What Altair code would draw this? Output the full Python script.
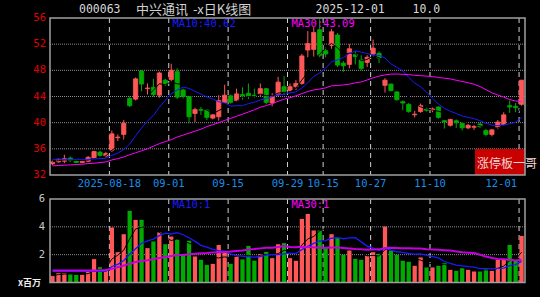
import altair as alt
import numpy as np
import pandas as pd

# ---------------- data ----------------
tick_idx = [10, 20, 30, 40, 46, 54, 64, 79]
tick_lbl = ["2025-08-18", "09-01", "09-15", "09-29", "10-15", "10-27", "11-10", "12-01"]
price_ticks = [32, 36, 40, 44, 48, 52, 56]
vol_ticks = [2, 4, 6]

opens = [33.7, 34.0, 34.1, 34.6, 34.2, 33.9, 34.1, 34.6, 35.5, 34.9,
         35.8, 37.7, 38.2, 43.7, 43.6, 47.9, 45.2, 45.4, 44.2, 46.5,
         46.6, 47.8, 45.0, 44.0, 41.4, 42.0, 41.9, 40.7, 40.9, 43.1,
         44.1, 43.4, 44.3, 44.5, 44.2, 44.4, 45.2, 43.0, 44.3, 45.5,
         44.9, 45.5, 46.0, 51.1, 51.2, 54.2, 51.0, 51.8, 53.4, 49.1,
         48.9, 50.4, 49.6, 49.2, 50.5, 50.6, 45.7, 45.9, 44.7, 43.2,
         42.8, 41.2, 41.7, 42.1, 41.9, 42.4, 40.3, 39.6, 40.3, 39.9,
         39.2, 39.3, 39.8, 38.8, 38.2, 39.3, 39.7, 42.6, 42.5, 42.8]
closes = [34.0, 34.4, 34.5, 34.2, 33.9, 34.1, 34.7, 35.6, 35.0, 35.3,
          38.3, 37.8, 39.9, 42.6, 46.7, 45.9, 45.3, 44.3, 47.6, 45.9,
          48.0, 43.9, 44.0, 40.9, 42.0, 41.9, 40.8, 41.2, 43.4, 44.2,
          43.1, 44.4, 44.1, 44.1, 44.1, 45.2, 43.1, 44.0, 46.2, 44.7,
          45.5, 46.0, 50.2, 52.1, 53.8, 50.3, 50.5, 53.9, 48.8, 48.7,
          51.3, 50.1, 48.3, 50.0, 51.4, 49.9, 46.5, 44.9, 43.5, 43.0,
          41.7, 41.3, 42.6, 41.9, 42.1, 40.8, 40.1, 40.5, 40.0, 39.2,
          39.6, 39.4, 39.4, 38.2, 38.9, 40.1, 41.2, 42.4, 42.3, 46.5]
highs = [34.2, 34.5, 35.1, 34.8, 34.3, 34.3, 34.9, 35.7, 35.7, 35.5,
         38.8, 38.2, 40.4, 44.0, 46.9, 48.0, 46.0, 46.7, 47.8, 46.7,
         49.0, 48.3, 45.2, 44.1, 42.3, 42.4, 42.1, 41.4, 44.2, 45.8,
         44.3, 45.2, 45.4, 46.0, 45.2, 46.0, 45.3, 44.5, 47.0, 47.1,
         46.0, 46.5, 50.5, 54.0, 54.6, 55.8, 51.5, 54.3, 53.7, 49.4,
         52.0, 50.9, 50.3, 50.3, 52.7, 50.9, 46.8, 46.0, 44.8, 43.4,
         43.0, 41.8, 42.9, 42.3, 42.3, 42.5, 40.4, 40.6, 40.5, 40.1,
         39.9, 39.8, 40.0, 39.1, 39.1, 40.4, 41.6, 43.4, 43.0, 46.5]
lows = [33.5, 33.9, 33.8, 34.0, 33.8, 33.8, 34.0, 34.5, 34.8, 34.7,
        35.5, 37.2, 37.4, 42.4, 43.4, 44.8, 44.3, 44.0, 43.8, 45.6,
        46.3, 43.6, 43.7, 39.9, 40.1, 41.2, 40.4, 40.5, 40.3, 43.0,
        42.9, 43.2, 43.5, 43.6, 43.8, 44.0, 42.8, 42.5, 44.0, 44.4,
        44.6, 45.0, 45.8, 50.0, 50.1, 50.0, 50.0, 51.3, 48.5, 47.8,
        48.3, 48.9, 48.0, 48.5, 50.1, 49.1, 44.6, 44.8, 43.4, 41.9,
        41.5, 40.8, 41.5, 41.7, 41.6, 40.6, 39.1, 39.4, 39.2, 38.8,
        39.0, 38.9, 39.2, 37.9, 37.9, 39.0, 39.5, 41.5, 41.6, 42.6]
volumes = [0.48, 0.67, 0.67, 0.62, 0.55, 0.55, 0.79, 1.68, 1.10, 0.91,
           3.95, 2.18, 3.47, 5.15, 4.50, 4.50, 2.47, 2.95, 3.60, 2.75,
           3.30, 3.10, 2.00, 3.00, 1.87, 1.63, 1.27, 1.34, 2.70, 2.25,
           1.34, 1.87, 1.66, 2.63, 1.57, 2.04, 2.20, 1.75, 2.75, 2.83,
           1.75, 1.56, 4.57, 4.93, 3.74, 3.74, 2.47, 3.47, 3.23, 1.99,
           2.30, 1.70, 1.63, 1.92, 2.18, 2.06, 4.02, 2.30, 1.99, 1.56,
           1.49, 1.20, 1.80, 1.08, 1.08, 1.20, 1.39, 0.91, 0.84, 1.03,
           0.91, 0.79, 0.79, 1.03, 0.84, 1.63, 1.63, 2.70, 1.56, 3.35]

# moving-average values at the start of the window (they depend on earlier days)
ma10_head = [34.4, 34.4, 34.4, 34.4, 34.4, 34.4, 34.4, 34.45, 34.5]
ma30_head = [33.4, 33.45, 33.5, 33.55, 33.6, 33.65, 33.75, 33.8, 33.9, 34.0,
             34.3, 34.5, 34.75, 35.1, 35.4, 35.7, 36.0, 36.4, 36.8, 37.1,
             37.4, 37.8, 38.1, 38.4, 38.7, 39.0, 39.4, 39.7, 40.0]
vma10_head = [0.80, 0.80, 0.80, 0.80, 0.80, 0.80, 0.80, 0.80, 0.82]
vma30_head = [0.86, 0.86, 0.86, 0.86, 0.86, 0.86, 0.86, 0.87, 0.88, 0.90,
              0.98, 1.10, 1.22, 1.35, 1.47, 1.55, 1.60, 1.68, 1.76, 1.84,
              1.90, 1.95, 1.98, 2.03, 2.06, 2.10, 2.12, 2.15, 2.18]

# ---------------- table ----------------
cs = pd.Series(closes)
vs = pd.Series(volumes)
ma5 = cs.rolling(5, min_periods=1).mean().to_numpy()
ma10 = cs.rolling(10).mean().to_numpy()
ma10[:len(ma10_head)] = ma10_head
ma30 = cs.rolling(30).mean().to_numpy()
ma30[:len(ma30_head)] = ma30_head
vma5 = vs.rolling(5, min_periods=1).mean().to_numpy()
vma10 = vs.rolling(10).mean().to_numpy()
vma10[:len(vma10_head)] = vma10_head
vma30 = vs.rolling(30).mean().to_numpy()
vma30[:len(vma30_head)] = vma30_head

df = pd.DataFrame(dict(idx=np.arange(len(closes)), o=opens, h=highs, l=lows, c=closes, v=volumes,
                       ma5=ma5, ma10=ma10, ma30=ma30, vma5=vma5, vma10=vma10, vma30=vma30))
df["dir"] = np.where(df.c >= df.o, "up", "down")
ticks_df = pd.DataFrame({"idx": tick_idx, "lbl": tick_lbl})
pt_df = pd.DataFrame({"val": price_ticks})
vt_df = pd.DataFrame({"val": vol_ticks})
ann = pd.DataFrame({"k": [0]})

RED = "#ff5757"
GREEN = "#00aa00"
BLUE = "#1a1aff"
MAGENTA = "#ff00ff"
VOL_MAGENTA = "#c400dc"
DATE_BLUE = "#1a8ee8"
MONO = "DejaVu Sans Mono"
CJK = "Noto Sans CJK SC"

# layout (pixels inside the plot area)
W = 475
MAIN_H = 157
VOL_TOP = 181
VOL_BOT = 264.5

xs = alt.Scale(domain=[0, 80], nice=False, zero=False)
ys_main = alt.Scale(domain=[32, 56], nice=False, zero=False, range=[MAIN_H, 0])
ys_vol = alt.Scale(domain=[0, 6], nice=False, zero=False, range=[VOL_BOT, VOL_TOP])
cscale = alt.Scale(domain=["up", "down"], range=[RED, GREEN])

X = lambda f: alt.X(f, scale=xs, axis=None)
YM = lambda f: alt.Y(f, scale=ys_main, axis=None)
YV = lambda f: alt.Y(f, scale=ys_vol, axis=None)

base = alt.Chart(df).transform_calculate(
    x0="datum.idx + 0.06", x1="datum.idx + 0.78", xc="datum.idx + 0.42",
    top="max(datum.o, datum.c)", bot="min(datum.o, datum.c)", zero="0")


def label(txt, x, y, color, font=MONO, size=10.5, weight="normal", align="left"):
    return alt.Chart(ann).mark_text(align=align, baseline="middle", font=font, fontSize=size,
                                    fontWeight=weight).encode(
        x=alt.value(x), y=alt.value(y), text=alt.value(txt), color=alt.value(color))


def border(y0, y1):
    return alt.Chart(ann).mark_rect(fillOpacity=0, stroke="#a0a0a0", strokeWidth=1.5).encode(
        x=alt.value(0), x2=alt.value(W), y=alt.value(y0), y2=alt.value(y1))


# ---------------- price panel ----------------
hgrid_main = alt.Chart(pt_df).transform_filter("datum.val > 32 && datum.val < 56").mark_rule(
    color="#8c8c8c", strokeDash=[1, 1], strokeWidth=1).encode(
    y=YM("val:Q"), x=alt.value(0), x2=alt.value(W))
vgrid_main = alt.Chart(ticks_df).mark_rule(color="#d0d0d0", strokeDash=[5, 4], strokeWidth=1).encode(
    x=X("idx:Q"), y=alt.value(0), y2=alt.value(MAIN_H))
ylab_main = alt.Chart(pt_df).mark_text(align="right", baseline="middle", font=MONO, fontSize=10.5,
                                       color="#e00000").encode(
    y=YM("val:Q"), x=alt.value(-4), text=alt.Text("val:Q", format="d"))
date_mid = alt.Chart(ticks_df).transform_filter("datum.idx < 79").mark_text(
    align="center", baseline="middle", font=MONO, fontSize=10.5, color=DATE_BLUE).encode(
    x=X("idx:Q"), y=alt.value(166), text="lbl:N")
date_end = alt.Chart(ticks_df).transform_filter("datum.idx >= 79").mark_text(
    align="right", baseline="middle", font=MONO, fontSize=10.5, color=DATE_BLUE, dx=-2).encode(
    x=X("idx:Q"), y=alt.value(166), text="lbl:N")

wick = base.mark_rule(strokeWidth=1).encode(
    x=X("xc:Q"), y=YM("l:Q"), y2="h:Q",
    color=alt.Color("dir:N", scale=cscale, legend=None))
body = base.mark_rect(strokeWidth=0.8).encode(
    x=X("x0:Q"), x2="x1:Q", y=YM("top:Q"), y2="bot:Q",
    color=alt.Color("dir:N", scale=cscale, legend=None),
    stroke=alt.Stroke("dir:N", scale=cscale, legend=None))
pm5 = base.mark_line(color="#000000", strokeWidth=1).encode(x=X("xc:Q"), y=YM("ma5:Q"))
pm10 = base.mark_line(color=BLUE, strokeWidth=1).encode(x=X("xc:Q"), y=YM("ma10:Q"))
pm30 = base.mark_line(color=MAGENTA, strokeWidth=1).encode(x=X("xc:Q"), y=YM("ma30:Q"))

box = alt.Chart(ann).mark_rect(color="#c80000").encode(
    x=alt.value(425), x2=alt.value(W), y=alt.value(131), y2=alt.value(MAIN_H))

main = alt.layer(
    hgrid_main, vgrid_main, wick, body, pm5, pm10, pm30, box, border(0, MAIN_H),
    ylab_main, date_mid, date_end,
    label("涨停板一哥", 427, 146, "#f0d4d4", font=CJK, size=12),
    label("MA10:40.62", 122.5, 5.5, BLUE),
    label("MA30:43.09", 241.5, 5.5, MAGENTA),
    label("000063", 29, -8.5, "#d8d8d8", size=11.5),
    label("中兴通讯", 86, -8.5, "#d0d0d0", font=CJK, size=13),
    label("-x日K线图", 143, -8.5, "#d0d0d0", font=CJK, size=13),
    label("2025-12-01", 265.5, -8.5, "#d8d8d8", size=11.5),
    label("10.0", 362.5, -8.5, "#d8d8d8", size=11.5),
)

# ---------------- volume panel ----------------
hgrid_vol = alt.Chart(vt_df).transform_filter("datum.val < 6").mark_rule(
    color="#8c8c8c", strokeDash=[1, 1], strokeWidth=1).encode(
    y=YV("val:Q"), x=alt.value(0), x2=alt.value(W))
vgrid_vol = alt.Chart(ticks_df).mark_rule(color="#d0d0d0", strokeDash=[5, 4], strokeWidth=1).encode(
    x=X("idx:Q"), y=alt.value(VOL_TOP), y2=alt.value(VOL_BOT))
ylab_vol = alt.Chart(vt_df).mark_text(align="right", baseline="middle", font=MONO, fontSize=10.5,
                                      color="#c8c8c8").encode(
    y=YV("val:Q"), x=alt.value(-5), text=alt.Text("val:Q", format="d"))
vbar = base.mark_rect(strokeWidth=0.6).encode(
    x=X("x0:Q"), x2="x1:Q", y=YV("v:Q"), y2="zero:Q",
    color=alt.Color("dir:N", scale=cscale, legend=None))
vm5 = base.mark_line(color="#000000", strokeWidth=1).encode(x=X("xc:Q"), y=YV("vma5:Q"))
vm10 = base.mark_line(color=BLUE, strokeWidth=1.3).encode(x=X("xc:Q"), y=YV("vma10:Q"))
vm30 = base.mark_line(color=VOL_MAGENTA, strokeWidth=2).encode(x=X("xc:Q"), y=YV("vma30:Q"))

vol = alt.layer(
    hgrid_vol, vgrid_vol, vbar, vm5, vm10, vm30, border(VOL_TOP, VOL_BOT), ylab_vol,
    label("MA10:1", 122.5, VOL_TOP + 6, BLUE),
    label("MA30:1", 241.5, VOL_TOP + 6, MAGENTA),
    label("x百万", -32, VOL_TOP + 84, "#eeeeee", font=CJK, size=9, weight="bold"),
)

chart = alt.layer(main, vol).resolve_scale(y="independent").properties(
    width=W, height=VOL_BOT,
    background="#000000",
    autosize=alt.AutoSizeParams(type="none"),
    padding={"left": 50, "top": 18, "right": 15, "bottom": 297 - 18 - VOL_BOT},
).configure_view(stroke=None)

chart.save("out.html", embed_options={"renderer": "svg", "actions": False})
